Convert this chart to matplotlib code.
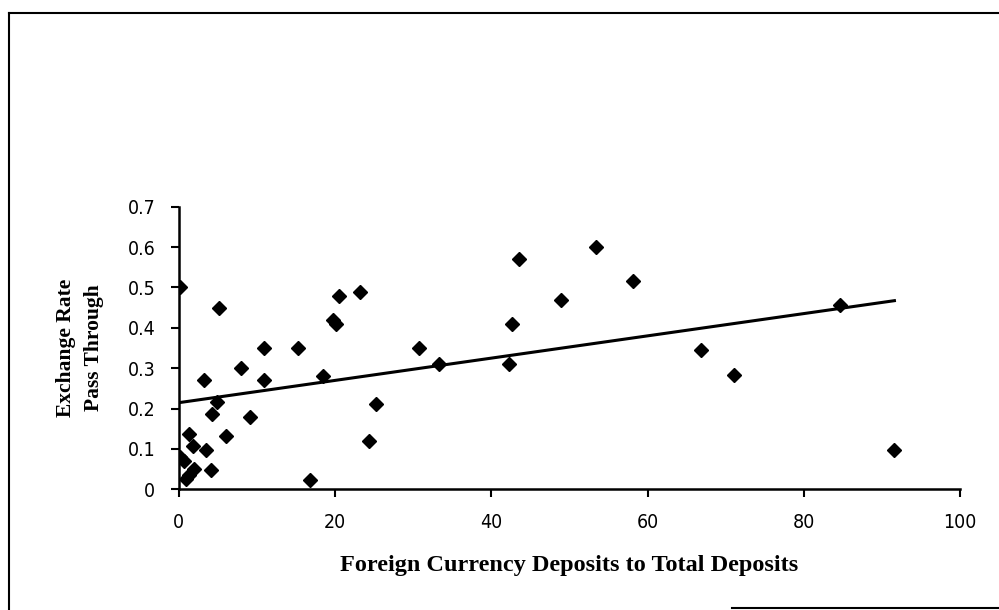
import numpy as np
import matplotlib
matplotlib.use('Agg')
from matplotlib import pyplot as plt
from matplotlib.lines import Line2D

# share of foreign currency deposits (%), pass-through coefficient
fcd_share = [0.2, 0.2, 0.6, 0.9, 1.3, 2.0, 1.3, 1.8, 3.5, 4.1,
             3.2, 4.2, 4.9, 5.2, 6.1, 7.9, 9.1, 10.9, 10.9, 15.2,
             16.8, 18.4, 19.7, 20.1, 20.5, 23.2, 24.4, 25.3, 30.8, 33.3,
             42.3, 42.6, 43.5, 48.9, 53.4, 58.1, 66.9, 71.1, 84.6, 91.6]
pass_through = [0.50, 0.08, 0.07, 0.025, 0.035, 0.05, 0.138, 0.108, 0.097, 0.047,
                0.27, 0.187, 0.217, 0.45, 0.132, 0.30, 0.178, 0.35, 0.27, 0.35,
                0.022, 0.28, 0.42, 0.41, 0.48, 0.49, 0.12, 0.21, 0.35, 0.31,
                0.31, 0.41, 0.57, 0.47, 0.60, 0.515, 0.345, 0.284, 0.456, 0.098]

# linear trend as printed on the chart
trend_intercept = 0.2145
trend_slope = 0.00276

x_ticks = [0, 20, 40, 60, 80, 100]
y_ticks = [0, 0.1, 0.2, 0.3, 0.4, 0.5, 0.6, 0.7]
y_tick_labels = ['0', '0.1', '0.2', '0.3', '0.4', '0.5', '0.6', '0.7']

tick_font = ['DejaVu Sans']
label_font = ['Liberation Serif', 'DejaVu Serif']

fig = plt.figure(figsize=(9.99, 6.10), dpi=100)
ax = fig.add_axes([0.179, 0.198, 0.782, 0.463])

ax.plot(fcd_share, pass_through, linestyle='none', marker='D', markersize=7,
        color='black', zorder=3)

xs = np.array([0, max(fcd_share)])
ax.plot(xs, trend_intercept + trend_slope * xs, color='black', linewidth=2.2, zorder=2)

ax.set_xlim(0, 100)
ax.set_ylim(0, 0.7)
ax.set_xticks(x_ticks)
ax.set_xticklabels([str(t) for t in x_ticks], family=tick_font, fontsize=14,
                   fontstretch='condensed')
ax.set_yticks(y_ticks)
ax.set_yticklabels(y_tick_labels, family=tick_font, fontsize=14,
                   fontstretch='condensed')
ax.tick_params(direction='out', length=6, width=1.5, pad=11)

for side in ['top', 'right']:
    ax.spines[side].set_visible(False)
for side in ['left', 'bottom']:
    ax.spines[side].set_linewidth(1.8)

ax.set_xlabel('Foreign Currency Deposits to Total Deposits', family=label_font,
              fontweight='bold', fontsize=17.5, labelpad=17)
ax.set_ylabel('Exchange Rate\nPass Through', family=label_font,
              fontweight='bold', fontsize=15.5, labelpad=17, linespacing=1.55)

# scanned frame around the chart
fig.add_artist(Line2D([0.009, 1.0], [0.978, 0.978], color='black', linewidth=1.5,
                      transform=fig.transFigure))
fig.add_artist(Line2D([0.009, 0.009], [0.0, 0.978], color='black', linewidth=1.5,
                      transform=fig.transFigure))
fig.add_artist(Line2D([0.733, 1.0], [0.004, 0.004], color='black', linewidth=1.5,
                      transform=fig.transFigure))

plt.savefig('out.png', dpi=100)
plt.close()
